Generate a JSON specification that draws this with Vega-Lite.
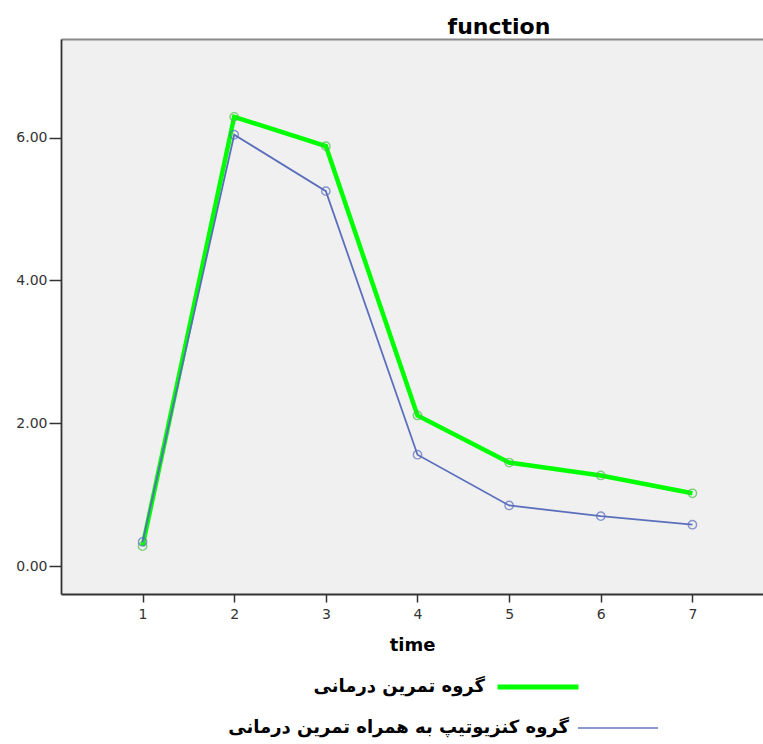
{
  "$schema": "https://vega.github.io/schema/vega-lite/v6.json",
  "width": 702,
  "height": 555,
  "autosize": "none",
  "padding": {"left": 61, "top": 39, "right": 0, "bottom": 150},
  "background": "white",
  "config": {
    "view": {"fill": "#f0f0f0", "stroke": null},
    "font": "DejaVu Sans"
  },
  "title": {
    "text": "function",
    "anchor": "middle",
    "dx": 87,
    "fontSize": 22,
    "fontWeight": "bold",
    "font": "DejaVu Sans",
    "color": "#000000",
    "baseline": "alphabetic",
    "offset": -17
  },
  "data": {
    "values": [
      {"time": 1, "value": 0.28, "group": "گروه تمرین درمانی"},
      {"time": 2, "value": 6.29, "group": "گروه تمرین درمانی"},
      {"time": 3, "value": 5.88, "group": "گروه تمرین درمانی"},
      {"time": 4, "value": 2.11, "group": "گروه تمرین درمانی"},
      {"time": 5, "value": 1.45, "group": "گروه تمرین درمانی"},
      {"time": 6, "value": 1.27, "group": "گروه تمرین درمانی"},
      {"time": 7, "value": 1.02, "group": "گروه تمرین درمانی"},
      {"time": 1, "value": 0.34, "group": "گروه کنزیوتیپ به همراه تمرین درمانی"},
      {"time": 2, "value": 6.04, "group": "گروه کنزیوتیپ به همراه تمرین درمانی"},
      {"time": 3, "value": 5.25, "group": "گروه کنزیوتیپ به همراه تمرین درمانی"},
      {"time": 4, "value": 1.56, "group": "گروه کنزیوتیپ به همراه تمرین درمانی"},
      {"time": 5, "value": 0.85, "group": "گروه کنزیوتیپ به همراه تمرین درمانی"},
      {"time": 6, "value": 0.70, "group": "گروه کنزیوتیپ به همراه تمرین درمانی"},
      {"time": 7, "value": 0.58, "group": "گروه کنزیوتیپ به همراه تمرین درمانی"}
    ]
  },
  "encoding": {
    "y": {
      "field": "value",
      "type": "quantitative",
      "scale": {"domain": [-0.39, 7.38], "nice": false, "zero": false},
      "axis": {
        "values": [0, 2, 4, 6],
        "format": ".2f",
        "title": null,
        "grid": false,
        "tickSize": 12,
        "tickWidth": 1.5,
        "tickColor": "#333333",
        "domainColor": "#333333",
        "domainWidth": 1.8,
        "labelPadding": 2,
        "labelFontSize": 14,
        "labelColor": "#333333",
        "labelFont": "DejaVu Sans"
      }
    }
  },
  "layer": [
    {
      "transform": [{"filter": {"field": "group", "equal": "گروه تمرین درمانی"}}],
      "encoding": {
        "x": {
          "field": "time",
          "type": "quantitative",
          "scale": {"domain": [0.11, 7.77], "nice": false, "zero": false},
          "axis": {
            "values": [1, 2, 3, 4, 5, 6, 7],
            "format": "d",
            "title": "time",
            "titleFontSize": 18,
            "titleFontWeight": "bold",
            "titleFont": "DejaVu Sans",
            "titleColor": "#000000",
            "titlePadding": 15,
            "grid": false,
            "tickSize": 8,
            "tickWidth": 1.5,
            "tickColor": "#333333",
            "domainColor": "#333333",
            "domainWidth": 1.8,
            "labelPadding": 5,
            "labelFontSize": 14,
            "labelColor": "#333333",
            "labelFont": "DejaVu Sans"
          }
        },
        "color": {
          "field": "group",
          "type": "nominal",
          "scale": {"domain": ["گروه تمرین درمانی"], "range": ["#00ff00"]},
          "legend": {
            "orient": "none",
            "legendX": 434,
            "legendY": 605,
            "title": null,
            "symbolType": "stroke",
            "symbolSize": 6561,
            "symbolStrokeWidth": 5,
            "symbolStrokeColor": "#66ff33",
            "labelAlign": "right",
            "labelOffset": -96,
            "labelFontSize": 18,
            "labelFontWeight": "bold",
            "labelFont": "DejaVu Sans",
            "labelColor": "#000000",
            "labelLimit": 600
          }
        }
      },
      "layer": [
        {"mark": {"type": "line", "strokeWidth": 4.5}},
        {
          "mark": {"type": "point", "shape": "circle", "filled": false, "size": 70, "strokeWidth": 1.4},
          "encoding": {"color": {"value": "#4cbf4c"}}
        }
      ]
    },
    {
      "transform": [{"filter": {"field": "group", "equal": "گروه کنزیوتیپ به همراه تمرین درمانی"}}],
      "encoding": {
        "x": {
          "field": "time",
          "type": "quantitative",
          "scale": {"domain": [0.11, 7.77], "nice": false, "zero": false},
          "axis": {
            "orient": "top",
            "labels": false,
            "ticks": false,
            "title": null,
            "grid": false,
            "domainColor": "#8a8a8a",
            "domainWidth": 1.8
          }
        },
        "color": {
          "field": "group",
          "type": "nominal",
          "scale": {"domain": ["گروه کنزیوتیپ به همراه تمرین درمانی"], "range": ["#5b6fbd"]},
          "legend": {
            "orient": "none",
            "legendX": 516,
            "legendY": 648,
            "title": null,
            "symbolType": "stroke",
            "symbolSize": 6400,
            "symbolStrokeWidth": 2,
            "symbolStrokeColor": "#4a6fcc",
            "labelAlign": "right",
            "labelOffset": -90,
            "labelFontSize": 18,
            "labelFontWeight": "bold",
            "labelFont": "DejaVu Sans",
            "labelColor": "#000000",
            "labelLimit": 600
          }
        }
      },
      "layer": [
        {"mark": {"type": "line", "strokeWidth": 1.8}},
        {
          "mark": {"type": "point", "shape": "circle", "filled": false, "size": 70, "strokeWidth": 1.4}
        }
      ]
    }
  ],
  "resolve": {"scale": {"color": "independent"}, "axis": {"x": "independent"}}
}
